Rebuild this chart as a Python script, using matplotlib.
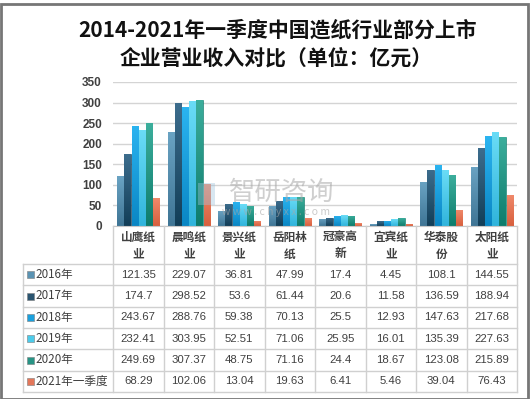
import numpy as np
import matplotlib
matplotlib.use("Agg")
import matplotlib.pyplot as plt
from matplotlib.lines import Line2D
from matplotlib.patches import Rectangle
from matplotlib.colors import to_rgb

plt.rcParams['font.family'] = ['Noto Sans CJK SC', 'DejaVu Sans']

title = "2014-2021年一季度中国造纸行业部分上市\n企业营业收入对比（单位：亿元）"
categories = ["山鹰纸\n业", "晨鸣纸\n业", "景兴纸\n业", "岳阳林\n纸", "冠豪高\n新", "宜宾纸\n业", "华泰股\n份", "太阳纸\n业"]
series_names = ["2016年", "2017年", "2018年", "2019年", "2020年", "2021年一季度"]
v2016 = [121.35, 229.07, 36.81, 47.99, 17.4, 4.45, 108.1, 144.55]
v2017 = [174.7, 298.52, 53.6, 61.44, 20.6, 11.58, 136.59, 188.94]
v2018 = [243.67, 288.76, 59.38, 70.13, 25.5, 12.93, 147.63, 217.68]
v2019 = [232.41, 303.95, 52.51, 71.06, 25.95, 16.01, 135.39, 227.63]
v2020 = [249.69, 307.37, 48.75, 71.16, 24.4, 18.67, 123.08, 215.89]
v2021q1 = [68.29, 102.06, 13.04, 19.63, 6.41, 5.46, 39.04, 76.43]
series_values = [v2016, v2017, v2018, v2019, v2020, v2021q1]
value_labels = [
    ["121.35", "229.07", "36.81", "47.99", "17.4", "4.45", "108.1", "144.55"],
    ["174.7", "298.52", "53.6", "61.44", "20.6", "11.58", "136.59", "188.94"],
    ["243.67", "288.76", "59.38", "70.13", "25.5", "12.93", "147.63", "217.68"],
    ["232.41", "303.95", "52.51", "71.06", "25.95", "16.01", "135.39", "227.63"],
    ["249.69", "307.37", "48.75", "71.16", "24.4", "18.67", "123.08", "215.89"],
    ["68.29", "102.06", "13.04", "19.63", "6.41", "5.46", "39.04", "76.43"],
]
yticks = [0, 50, 100, 150, 200, 250, 300, 350]

# top (light) and bottom (dark) colours of each series' gradient
top_colors = ["#6aa3c3", "#3d6d8d", "#2bb4f0", "#6adcf6", "#3cae9c", "#f08a6c"]
bot_colors = ["#3f7595", "#123e58", "#0a86c4", "#30b4dc", "#0e7c6c", "#d8603e"]
legend_colors = ["#5a93b3", "#2a5470", "#1aa0dd", "#4ccbea", "#279485", "#e4775a"]

W, H = 531, 399
fig = plt.figure(figsize=(W / 100, H / 100), dpi=100)

def fx(px):
    return px / W

def fy(py):
    return 1 - py / H

ax_l, ax_r, ax_t, ax_b = 113, 517, 82, 226
ax = fig.add_axes([fx(ax_l), fy(ax_b), fx(ax_r - ax_l), (ax_b - ax_t) / H])
n = len(categories)
ax.set_xlim(-0.5, n - 0.5)
ax.set_ylim(0, 350)
ax.set_yticks(yticks)
ax.set_yticklabels([str(t) for t in yticks], fontsize=8.5, color="#404040", fontweight="bold",
                   family=['Liberation Sans', 'DejaVu Sans'])
ax.tick_params(axis='y', length=0, pad=8)
ax.set_xticks([])
for s in ["top", "right", "left"]:
    ax.spines[s].set_visible(False)
ax.spines["bottom"].set_color("#c8c8c8")
ax.yaxis.grid(True, color="#d4d4d4", linewidth=1)
ax.set_axisbelow(True)

bw = 0.142
x = np.arange(n)
grad = np.linspace(0, 1, 64).reshape(-1, 1)
for j, vals in enumerate(series_values):
    pos = x + (j - 2.5) * bw
    bars = ax.bar(pos, vals, width=bw * 0.86, color=legend_colors[j],
                  edgecolor=bot_colors[j], linewidth=0.4, zorder=2)
    t = np.array(to_rgb(top_colors[j]))
    b = np.array(to_rgb(bot_colors[j]))
    for bar in bars:
        x0 = bar.get_x()
        w = bar.get_width()
        h = bar.get_height()
        img = t[None, None, :] * (1 - grad[:, :, None]) + b[None, None, :] * grad[:, :, None]
        im = ax.imshow(img, extent=[x0, x0 + w, 0, h], origin='upper', aspect='auto',
                       zorder=2.5, interpolation='bilinear')
        im.set_clip_path(bar)
ax.set_xlim(-0.5, n - 0.5)
ax.set_ylim(0, 350)

# watermark
fig.text(fx(282), fy(192), "智研咨询", fontsize=19, color="#a8a8a8", alpha=0.55,
         ha="center", va="center", zorder=10)
fig.text(fx(276), fy(212), "w w w . c h y x x . c o m", fontsize=7.5, color="#a8a8a8",
         alpha=0.6, ha="center", va="center", zorder=10)
fig.add_artist(Rectangle((fx(198), fy(205)), fx(17), 22 / H, transform=fig.transFigure,
                         facecolor="#9fc3dc", alpha=0.4, edgecolor="none", zorder=10))

# title
fig.text(fx(278), fy(30), title.split("\n")[0], fontsize=15, fontweight="bold",
         ha="center", va="center", color="#111111")
fig.text(fx(276), fy(58), title.split("\n")[1], fontsize=15, fontweight="bold",
         ha="center", va="center", color="#111111")

# table
line_c = "#d0d0d0"
tbl_l = 23
col_w = (ax_r - ax_l) / n
row_top = 264
row_h = (392 - 264) / 6
for k in range(n + 1):
    xx = ax_l + k * col_w
    fig.add_artist(Line2D([fx(xx), fx(xx)], [fy(ax_b), fy(392)], color=line_c, lw=1))
fig.add_artist(Line2D([fx(tbl_l), fx(tbl_l)], [fy(row_top), fy(392)], color=line_c, lw=1))
for r in range(7):
    yy = row_top + r * row_h
    fig.add_artist(Line2D([fx(tbl_l), fx(ax_r)], [fy(yy), fy(yy)], color=line_c, lw=1))

# category labels
for i, c in enumerate(categories):
    cx = ax_l + (i + 0.5) * col_w
    l1, l2 = c.split("\n")
    fig.text(fx(cx), fy(237), l1, fontsize=8.4, ha="center", va="center", color="#404040",
             fontweight="bold")
    fig.text(fx(cx), fy(254), l2, fontsize=8.4, ha="center", va="center", color="#404040",
             fontweight="bold")

# rows
for r, name in enumerate(series_names):
    cy = row_top + (r + 0.5) * row_h
    fig.add_artist(Rectangle((fx(27), fy(cy + 3.5)), fx(7), 7 / H, transform=fig.transFigure,
                             facecolor=legend_colors[r], edgecolor="#7f7f7f", lw=0.4))
    fig.text(fx(35.5), fy(cy), name, fontsize=8.4, ha="left", va="center", color="#404040")
    for i in range(n):
        cx = ax_l + (i + 0.5) * col_w
        fig.text(fx(cx), fy(cy), value_labels[r][i], fontsize=8.2, ha="center", va="center",
                 color="#404040", family=['Liberation Sans', 'DejaVu Sans'])

# outer frame
fig.add_artist(Rectangle((0.5 / W, 0.5 / H), 1 - 1 / W - 3 / W, 1 - 1 / H - 3 / H,
                         transform=fig.transFigure, facecolor="none",
                         edgecolor="#767676", lw=2))

fig.savefig("out.png", dpi=100)
